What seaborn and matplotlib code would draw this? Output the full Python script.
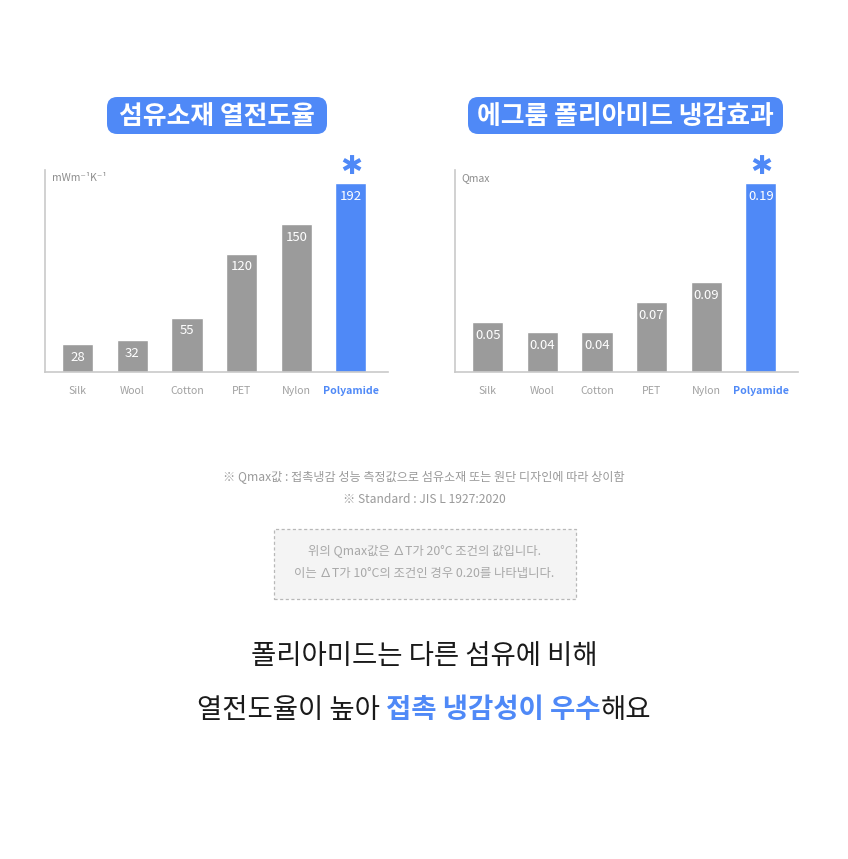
import matplotlib
matplotlib.use("Agg")
import matplotlib.pyplot as plt
import seaborn as sns
import pandas as pd
from matplotlib.patches import FancyBboxPatch, Rectangle

# ---- data ----
fibers = ["Silk", "Wool", "Cotton", "PET", "Nylon", "Polyamide"]
conductivity = [28, 32, 55, 120, 150, 192]
conductivity_labels = ["28", "32", "55", "120", "150", "192"]
qmax = [0.05, 0.04, 0.04, 0.07, 0.09, 0.19]
qmax_labels = ["0.05", "0.04", "0.04", "0.07", "0.09", "0.19"]
highlight = "Polyamide"

title_left = "섬유소재 열전도율"
title_right = "에그룸 폴리아미드 냉감효과"
unit_left = "mWm⁻¹K⁻¹"
unit_right = "Qmax"
note1 = "※ Qmax값 : 접촉냉감 성능 측정값으로 섬유소재 또는 원단 디자인에 따라 상이함"
note2 = "※ Standard : JIS L 1927:2020"
box_line1 = "위의 Qmax값은 ∆T가 20°C 조건의 값입니다."
box_line2 = "이는 ∆T가 10°C의 조건인 경우 0.20를 나타냅니다."
head1 = "폴리아미드는 다른 섬유에 비해"
head2_parts = ["열전도율이 높아", "접촉 냉감성이 우수", "해요"]

BLUE = "#4f89f7"
GRAY = "#9b9b9b"
LIGHT = "#c9c9c9"
TXT_GRAY = "#a0a0a0"

sns.set_theme(style="white")
FAM = ["Noto Sans CJK KR", "DejaVu Sans"]
plt.rcParams["font.family"] = FAM

W, H = 848, 859
fig = plt.figure(figsize=(W / 100, H / 100), dpi=100)
fig.patch.set_facecolor("white")


def fx(px):
    return px / W


def fy(py):
    return 1 - py / H


palette = {f: (BLUE if f == highlight else GRAY) for f in fibers}


def draw_chart(left_px, values, labels, unit, ytop):
    ax = fig.add_axes([fx(left_px), fy(372), 343 / W, 202 / H])
    df = pd.DataFrame({"fiber": fibers, "value": values})
    sns.barplot(data=df, x="fiber", y="value", hue="fiber", palette=palette,
                width=0.57, saturation=1, legend=False, ax=ax)
    ax.set_xlim(-0.6, 5.68)
    ax.set_ylim(0, ytop)
    ax.set_xlabel("")
    ax.set_ylabel("")
    ax.set_yticks([])
    for s in ["top", "right"]:
        ax.spines[s].set_visible(False)
    for s in ["left", "bottom"]:
        ax.spines[s].set_color(LIGHT)
        ax.spines[s].set_linewidth(1.2)
    ax.tick_params(axis="x", length=0, pad=10)
    for lab in ax.get_xticklabels():
        lab.set_fontsize(7.6)
        if lab.get_text() == highlight:
            lab.set_color(BLUE)
            lab.set_fontweight("bold")
        else:
            lab.set_color(TXT_GRAY)
    for i, (v, t) in enumerate(zip(values, labels)):
        ax.annotate(t, (i, v), xytext=(0, -9.5), textcoords="offset points",
                    ha="center", va="center", color="white", fontsize=9.5)
        if fibers[i] == highlight:
            ax.annotate("✱", (i, v), xytext=(0, 11.5), textcoords="offset points",
                        ha="center", va="center", color=BLUE, fontsize=19,
                        family=["DejaVu Sans"], fontweight="bold")
    ax.text(0.02, 0.96, unit, transform=ax.transAxes, ha="left", va="center",
            fontsize=7.5, color="#8c8c8c", family=FAM)
    return ax


draw_chart(45, conductivity, conductivity_labels, unit_left, 205)
draw_chart(455, qmax, qmax_labels, unit_right, 0.203)


def pill(x0, x1, y0, y1, text):
    p = FancyBboxPatch((fx(x0), fy(y1)), fx(x1 - x0), (y1 - y0) / H,
                       boxstyle="round,pad=0,rounding_size=0.012",
                       transform=fig.transFigure, facecolor=BLUE,
                       edgecolor="none")
    fig.add_artist(p)
    fig.text(fx((x0 + x1) / 2), fy((y0 + y1) / 2 + 1), text, ha="center",
             va="center", color="white", fontsize=18.6, fontweight="bold")


pill(107, 327, 97, 134, title_left)
pill(468, 783, 97, 134, title_right)

fig.text(0.5, fy(477), note1, ha="center", va="center", fontsize=8.7,
         color="#9a9a9a")
fig.text(0.5, fy(499), note2, ha="center", va="center", fontsize=8.7,
         color="#9a9a9a")

box = Rectangle((fx(274), fy(599)), fx(576 - 274), (599 - 529) / H,
                transform=fig.transFigure, facecolor="#f4f4f4",
                edgecolor="#b8b8b8", linestyle=(0, (2.5, 2)), linewidth=0.9)
fig.add_artist(box)
fig.text(0.5, fy(551), box_line1, ha="center", va="center", fontsize=8.9,
         color="#a8a8a8")
fig.text(0.5, fy(574), box_line2, ha="center", va="center", fontsize=8.9,
         color="#a8a8a8")

HEAD_FS = 19.8
fig.text(0.5, fy(657), head1, ha="center", va="center", fontsize=HEAD_FS,
         color="#1a1a1a")

# second headline line with a coloured middle part
renderer = fig.canvas.get_renderer()
styles = [dict(color="#1a1a1a", fontweight="normal"),
          dict(color=BLUE, fontweight="bold"),
          dict(color="#1a1a1a", fontweight="normal")]
probe_a = fig.text(0, 0, "가 가", fontsize=HEAD_FS)
probe_b = fig.text(0, 0, "가가", fontsize=HEAD_FS)
space_w = (probe_a.get_window_extent(renderer).width
           - probe_b.get_window_extent(renderer).width)
probe_a.remove()
probe_b.remove()
parts = []
for t, st in zip(head2_parts, styles):
    parts.append(fig.text(0, fy(710), t, ha="left", va="center",
                          fontsize=HEAD_FS, **st))
widths = [p.get_window_extent(renderer).width for p in parts]
gaps = [space_w, 0, 0]
total = sum(widths) + sum(gaps[:-1])
x = (W - total) / 2
for p, w, g in zip(parts, widths, gaps):
    p.set_x(fx(x))
    x += w + g

fig.savefig("out.png", dpi=100, facecolor="white")
